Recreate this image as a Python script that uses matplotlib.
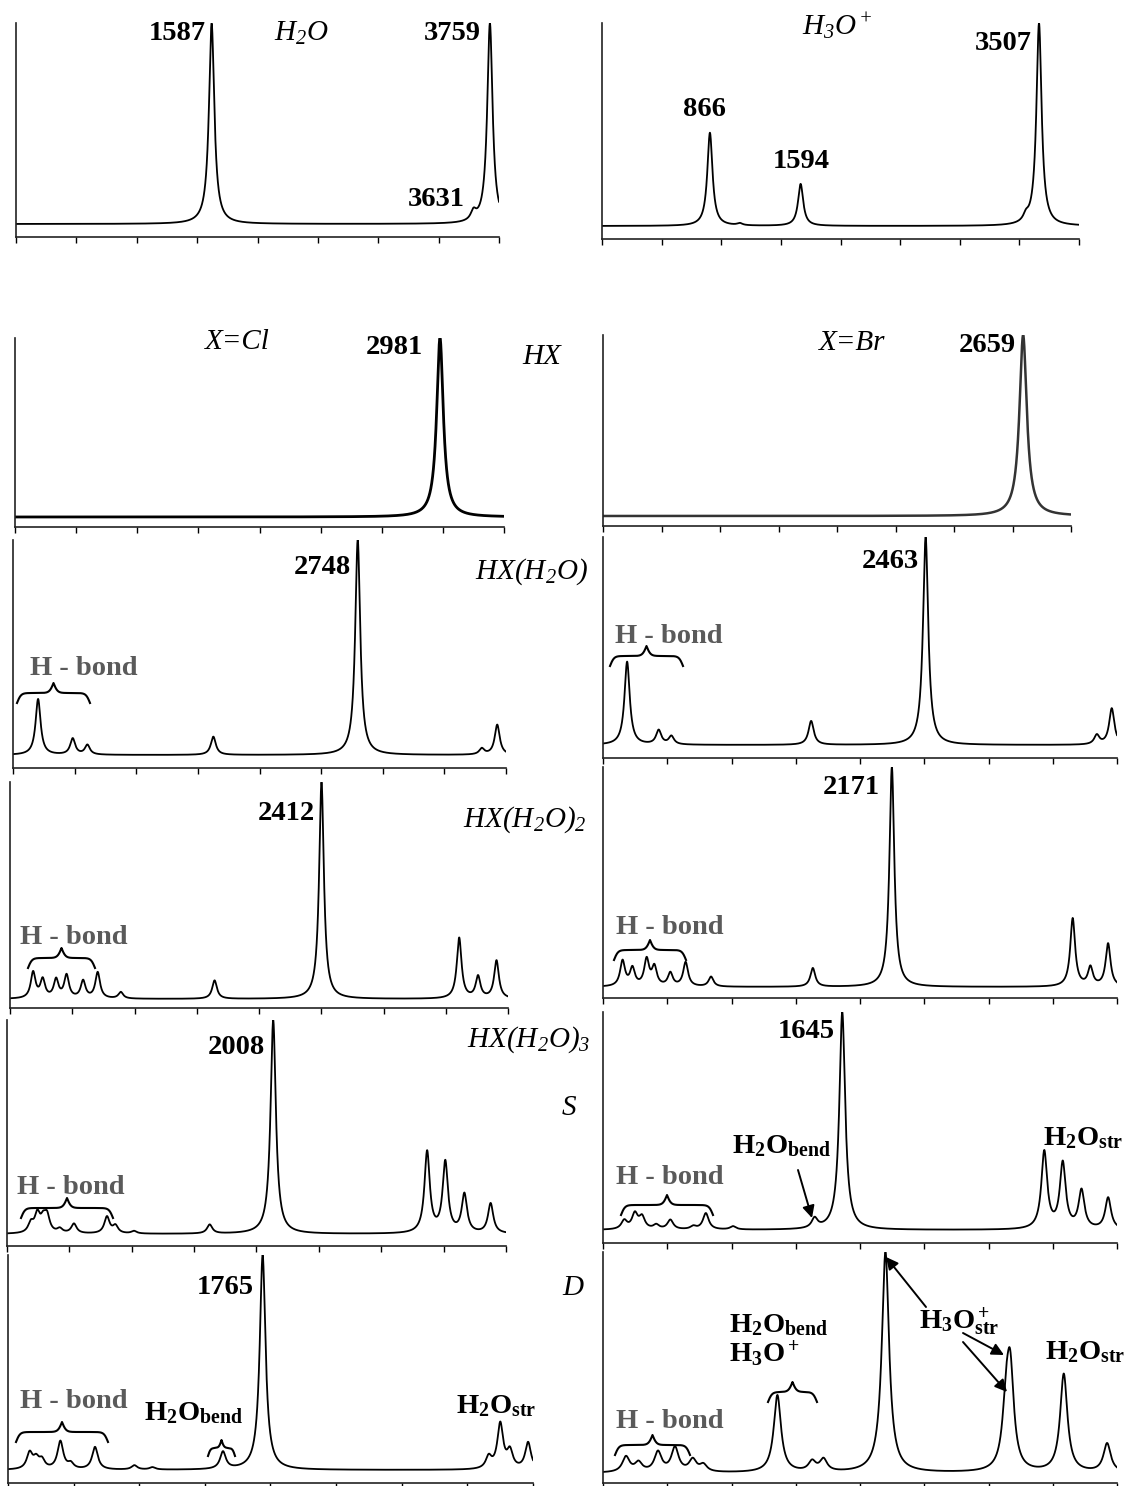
import numpy as np
import matplotlib
matplotlib.use("Agg")
import matplotlib.pyplot as plt
from matplotlib.lines import Line2D
from matplotlib.patches import FancyArrowPatch

plt.rcParams["font.family"] = ["Liberation Serif", "DejaVu Serif"]
plt.rcParams["mathtext.fontset"] = "custom"
plt.rcParams["mathtext.rm"] = "Liberation Serif"
plt.rcParams["mathtext.it"] = "Liberation Serif:italic"
plt.rcParams["mathtext.bf"] = "Liberation Serif:bold"
# fully italic formulas (digits and brackets included) go through the sf slot
plt.rcParams["mathtext.sf"] = "Liberation Serif:italic"

# ---- stick spectra: band positions (cm^-1) and relative intensities ----
h2o_freq = [1587, 3631, 3759]
h2o_int = [1.0, 0.045, 1.0]

h3o_freq = [866, 1106, 1594, 3402, 3507]
h3o_int = [0.46, 0.01, 0.207, 0.03, 1.0]

hcl_freq = [2981]
hcl_int = [1.0]

hbr_freq = [2659]
hbr_int = [1.0]

hcl_w1_freq = [200, 476, 593, 1597, 2748, 3737, 3860]
hcl_w1_int = [0.26, 0.075, 0.045, 0.085, 1.0, 0.028, 0.14]

hbr_w1_freq = [184, 425, 522, 1589, 2463, 3770, 3884]
hbr_w1_int = [0.40, 0.068, 0.04, 0.115, 1.0, 0.045, 0.175]

hcl_w2_freq = [179, 253, 357, 438, 566, 679, 858, 1584, 2412, 3478, 3624, 3767]
hcl_w2_int = [0.12, 0.085, 0.085, 0.105, 0.08, 0.12, 0.03, 0.085, 1.0, 0.28, 0.10, 0.175]

hbr_w2_freq = [147, 221, 328, 386, 506, 621, 812, 1577, 2171, 3530, 3663, 3796]
hbr_w2_int = [0.115, 0.08, 0.12, 0.085, 0.06, 0.11, 0.045, 0.085, 1.0, 0.31, 0.085, 0.195]

hcl_w3s_freq = [180, 229, 273, 302, 398, 505, 754, 818, 958, 1529, 2008, 3169, 3306, 3450, 3648]
hcl_w3s_int = [0.045, 0.085, 0.055, 0.075, 0.02, 0.045, 0.078, 0.035, 0.012, 0.042, 1.0,
               0.38, 0.33, 0.18, 0.14]

hbr_w3s_freq = [146, 219, 268, 366, 463, 621, 707, 894, 1455, 1645, 3034, 3161, 3290, 3473]
hbr_w3s_int = [0.04, 0.07, 0.055, 0.02, 0.044, 0.014, 0.075, 0.015, 0.045, 1.0,
               0.355, 0.30, 0.175, 0.145]

hcl_w3d_freq = [150, 195, 235, 363, 435, 603, 876, 1001, 1490, 1765, 3332, 3412, 3479, 3605]
hcl_w3d_int = [0.075, 0.045, 0.04, 0.13, 0.025, 0.105, 0.02, 0.011, 0.08, 1.0,
               0.055, 0.21, 0.08, 0.125]

hbr_w3d_freq = [158, 244, 378, 495, 617, 690, 1199, 1438, 1516, 1942, 2772, 2800, 3168, 3466]
hbr_w3d_int = [0.07, 0.042, 0.09, 0.11, 0.055, 0.032, 0.35, 0.045, 0.055, 1.0,
               0.25, 0.42, 0.445, 0.13]

# frequency window of each panel (cm^-1)
x_ranges = {
    "h2o": (60, 3830), "h3o": (0, 3828),
    "hcl": (0, 3430), "hbr": (0, 2962),
    "hcl_w1": (0, 3930), "hbr_w1": (0, 3924),
    "hcl_w2": (0, 3856), "hbr_w2": (0, 3863),
    "hcl_w3s": (0, 3764), "hbr_w3s": (0, 3534),
    "hcl_w3d": (0, 3639), "hbr_w3d": (0, 3534),
}

W, H = 1133, 1486
fig = plt.figure(figsize=(W / 100, H / 100), dpi=100)
fig.patch.set_facecolor("white")


def lorentz_sum(freq, inten, hwhm, x):
    y = np.zeros_like(x)
    for f, a in zip(freq, inten):
        y += a / (1.0 + ((x - f) / hwhm) ** 2)
    return y / y.max()


def panel(key, freq, inten, box, hwhm=24, lw=1.3, color="black"):
    # box: left, right, top, baseline, bottom (pixels from top-left)
    L, R, T, Bl, B = box
    ax = fig.add_axes([L / W, 1 - B / H, (R - L) / W, (B - T) / H])
    x0, x1 = x_ranges[key]
    x = np.linspace(x0, x1, 6000)
    y = lorentz_sum(freq, inten, hwhm, x)
    ax.plot(x, y, color=color, lw=lw, solid_joinstyle="round")
    ax.set_xlim(x0, x1)
    ax.set_ylim(-(B - Bl) / (Bl - T), 1.0)
    ax.set_xticks(np.linspace(x0, x1, 9))
    ax.set_yticks([])
    ax.tick_params(axis="x", direction="out", length=4, width=1.0,
                   labelbottom=False, color="black")
    for s in ("top", "right"):
        ax.spines[s].set_visible(False)
    for s in ("left", "bottom"):
        ax.spines[s].set_linewidth(1.2)
        ax.spines[s].set_color("#222222")
    ax.patch.set_alpha(0)
    return ax


def ftext(x, y, s, **kw):
    kw.setdefault("va", "center")
    fig.text(x / W, 1 - y / H, s, **kw)


NUM = dict(fontsize=20.5, fontweight="bold", color="black")
ITAL = dict(fontsize=21, fontstyle="italic", color="black")
HB = dict(fontsize=20.5, fontweight="bold", color="#5a5a5a")
LAB = dict(fontsize=20.5, color="black")


def brace(x1, x2, y, depth=10, beta=0.5):
    xm = 0.5 * (x1 + x2)
    xs = np.linspace(x1, xm, 200)
    half = 1 / (1 + np.exp(-beta * (xs - x1))) + 1 / (1 + np.exp(-beta * (xs - xm)))
    xx = np.concatenate([xs, 2 * xm - xs[::-1]])
    yy = np.concatenate([half, half[::-1]])
    ypx = y - (yy - 1.0) * 2 * depth
    fig.add_artist(Line2D(xx / W, 1 - ypx / H, transform=fig.transFigure,
                          color="black", lw=1.5))


def arrow(xa, ya, xb, yb):
    fig.add_artist(FancyArrowPatch((xa / W, 1 - ya / H), (xb / W, 1 - yb / H),
                                   transform=fig.transFigure, arrowstyle="-|>",
                                   mutation_scale=18, lw=1.4, color="black",
                                   shrinkA=0, shrinkB=0))


# ---- row 1: monomers ----
panel("h2o", h2o_freq, h2o_int, (16, 499, 23, 224, 237), hwhm=25)
ftext(206, 33, "1587", ha="right", **NUM)
ftext(301, 33, r"$\mathsf{H_2O}$", ha="center", **ITAL)
ftext(481, 33, "3759", ha="right", **NUM)
ftext(465, 199, "3631", ha="right", **NUM)

panel("h3o", h3o_freq, h3o_int, (602, 1079, 23, 226, 239), hwhm=25)
ftext(837, 26, r"$\mathsf{H_3O^+}$", ha="center", **ITAL)
ftext(1032, 44, "3507", ha="right", **NUM)
ftext(704, 110, "866", ha="center", **NUM)
ftext(801, 161, "1594", ha="center", **NUM)

# ---- row 2: HX ----
panel("hcl", hcl_freq, hcl_int, (15, 504, 338, 517, 527), hwhm=28, lw=2.0)
ftext(237, 342, "X=Cl", ha="center", **ITAL)
ftext(423, 348, "2981", ha="right", **NUM)
ftext(542, 357, "HX", ha="center", **ITAL)

panel("hbr", hbr_freq, hbr_int, (603, 1071, 335, 516, 526), hwhm=28, lw=1.8,
      color="#333333")
ftext(852, 343, "X=Br", ha="center", **ITAL)
ftext(1016, 345, "2659", ha="right", **NUM)

# ---- row 3: HX(H2O) ----
panel("hcl_w1", hcl_w1_freq, hcl_w1_int, (13, 506, 540, 755, 768), hwhm=24)
ftext(351, 568, "2748", ha="right", **NUM)
ftext(475, 572, r"$\mathsf{HX(H_2O)}$", ha="left", **ITAL)
ftext(84, 669, "H - bond", ha="center", **HB)
brace(17, 90, 693)

panel("hbr_w1", hbr_w1_freq, hbr_w1_int, (603, 1117, 537, 745, 758), hwhm=24)
ftext(919, 562, "2463", ha="right", **NUM)
ftext(669, 636, "H - bond", ha="center", **HB)
brace(610, 683, 656)

# ---- row 4: HX(H2O)2 ----
panel("hcl_w2", hcl_w2_freq, hcl_w2_int, (10, 508, 782, 999, 1008), hwhm=22)
ftext(315, 813, "2412", ha="right", **NUM)
ftext(463, 820, r"$\mathsf{HX(H_2O)_2}$", ha="left", **ITAL)
ftext(74, 938, "H - bond", ha="center", **HB)
brace(28, 95, 958)

panel("hbr_w2", hbr_w2_freq, hbr_w2_int, (603, 1117, 767, 987, 998), hwhm=22)
ftext(880, 787, "2171", ha="right", **NUM)
ftext(670, 927, "H - bond", ha="center", **HB)
brace(614, 686, 950)

# ---- row 5: HX(H2O)3, structure S ----
panel("hcl_w3s", hcl_w3s_freq, hcl_w3s_int, (7, 506, 1020, 1234, 1246), hwhm=24)
ftext(265, 1047, "2008", ha="right", **NUM)
ftext(467, 1040, r"$\mathsf{HX(H_2O)_3}$", ha="left", **ITAL)
ftext(569, 1108, "S", ha="center", **ITAL)
ftext(71, 1187, "H - bond", ha="center", **HB)
brace(21, 113, 1208)

panel("hbr_w3s", hbr_w3s_freq, hbr_w3s_int, (603, 1117, 1012, 1230, 1243), hwhm=24)
ftext(835, 1032, "1645", ha="right", **NUM)
ftext(670, 1178, "H - bond", ha="center", **HB)
brace(621, 713, 1205)
ftext(732, 1146, r"$\mathbf{H_2O_{bend}}$", ha="left", **LAB)
arrow(798, 1170, 812, 1218)
ftext(1043, 1138, r"$\mathbf{H_2O_{str}}$", ha="left", **LAB)

# ---- row 6: HX(H2O)3, structure D ----
panel("hcl_w3d", hcl_w3d_freq, hcl_w3d_int, (8, 533, 1255, 1470, 1483), hwhm=24)
ftext(254, 1288, "1765", ha="right", **NUM)
ftext(573, 1288, "D", ha="center", **ITAL)
ftext(74, 1402, "H - bond", ha="center", **HB)
brace(16, 108, 1432)
ftext(144, 1413, r"$\mathbf{H_2O_{bend}}$", ha="left", **LAB)
brace(208, 235, 1448, depth=8, beta=0.8)
ftext(456, 1406, r"$\mathbf{H_2O_{str}}$", ha="left", **LAB)

panel("hbr_w3d", hbr_w3d_freq, hbr_w3d_int, (603, 1117, 1252, 1473, 1483), hwhm=30)
ftext(729, 1325, r"$\mathbf{H_2O_{bend}}$", ha="left", **LAB)
ftext(729, 1353, r"$\mathbf{H_3O^+}$", ha="left", **LAB)
brace(768, 817, 1392)
ftext(919, 1322, r"$\mathbf{H_3O^+_{str}}$", ha="left", **LAB)
arrow(926, 1307, 886, 1257)
arrow(963, 1333, 1004, 1355)
arrow(963, 1342, 1007, 1392)
ftext(1045, 1352, r"$\mathbf{H_2O_{str}}$", ha="left", **LAB)
ftext(670, 1422, "H - bond", ha="center", **HB)
brace(615, 690, 1445)

fig.savefig("out.png", dpi=100, facecolor="white")
